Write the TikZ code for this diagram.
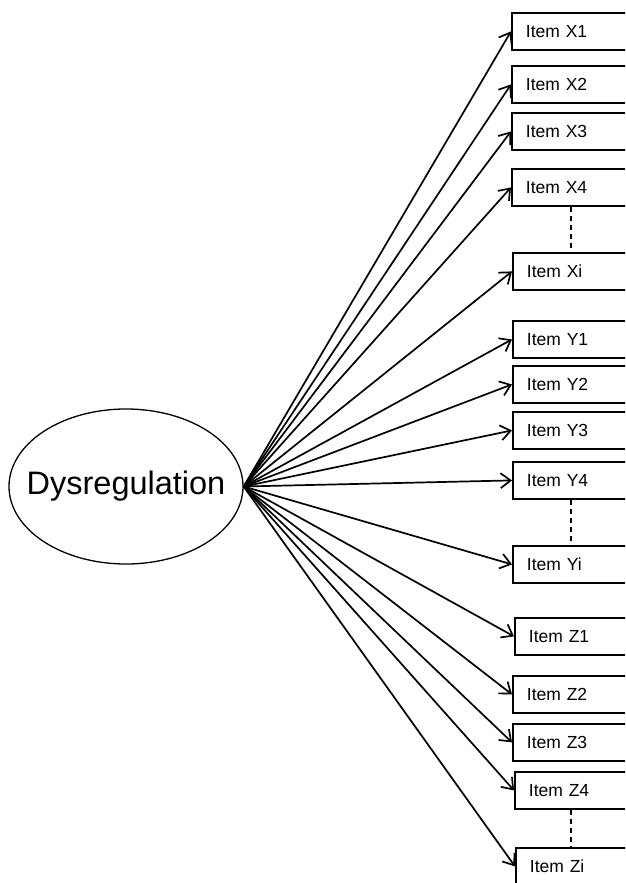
\documentclass[tikz,border=0pt]{standalone}
\usepackage{fontspec}
\setmainfont{Liberation Sans}
\usetikzlibrary{shapes.geometric,arrows.meta}
\tikzset{
  itembox/.style={draw, line width=1.8pt, rectangle, anchor=north west, minimum height=37pt,
    text width=112pt, inner xsep=14pt, inner ysep=0pt, align=left, font=\fontsize{17.5}{20}\selectfont},
  latent/.style={draw, line width=1.3pt, ellipse, minimum width=234pt, minimum height=155pt, inner sep=0pt,
    font=\fontsize{32.5}{36}\selectfont},
  loading/.style={line width=1.7pt, -{Straight Barb[length=10pt,width=15pt,line width=1.7pt]}},
  gap/.style={line width=1.6pt, dash pattern=on 5pt off 4pt}
}
\begin{document}
\begin{tikzpicture}[x=1pt,y=-1pt]
\clip (0,0) rectangle (625,883);
\fill[white] (0,0) rectangle (625,883);
\node[latent] (dys) at (126,486.5) {\makebox[0pt]{Dysregulation}};
\node[itembox] (X1) at (511,12) {Item X1};
\node[itembox] (X2) at (511,65) {Item X2};
\node[itembox] (X3) at (511,112) {Item X3};
\node[itembox] (X4) at (511,168) {Item X4};
\node[itembox] (Xi) at (512,252) {Item Xi};
\node[itembox] (Y1) at (512,320) {Item Y1};
\node[itembox] (Y2) at (512,365) {Item Y2};
\node[itembox] (Y3) at (512,411) {Item Y3};
\node[itembox] (Y4) at (512,461) {Item Y4};
\node[itembox] (Yi) at (512,545) {Item Yi};
\node[itembox] (Z1) at (514,617) {Item Z1};
\node[itembox] (Z2) at (512,675) {Item Z2};
\node[itembox] (Z3) at (512,723) {Item Z3};
\node[itembox] (Z4) at (514,771) {Item Z4};
\node[itembox] (Zi) at (515,847) {Item Zi};
\foreach \n in {X1,X2,X3,X4,Xi,Y1,Y2,Y3,Y4,Yi,Z1,Z2,Z3,Z4,Zi}
  \draw[loading] (dys.east) -- (\n.west);
\draw[gap] (X4.south west) ++(60,0) coordinate (a1) -- (a1 |- Xi.north);
\draw[gap] (Y4.south west) ++(59,0) coordinate (a2) -- (a2 |- Yi.north);
\draw[gap] (Z4.south west) ++(57,0) coordinate (a3) -- (a3 |- Zi.north);
\end{tikzpicture}
\end{document}
